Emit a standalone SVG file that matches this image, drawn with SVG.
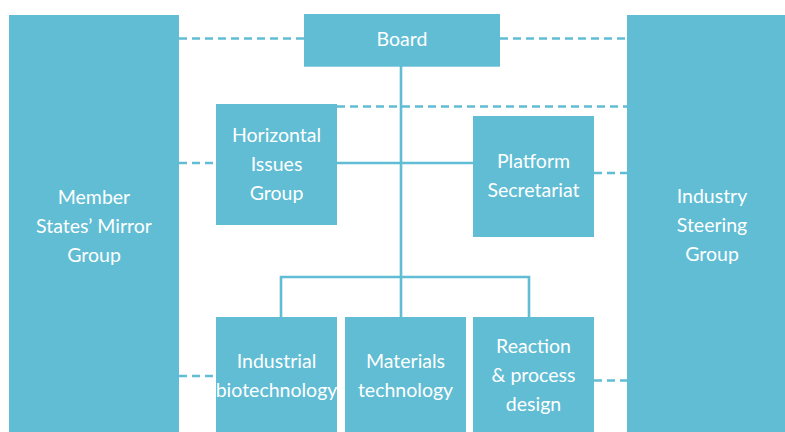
<svg xmlns="http://www.w3.org/2000/svg" width="785" height="432" viewBox="0 0 785 432">
  <style>
    .box { fill: #60bdd4; }
    .lbl { fill: #ffffff; font-family: Lato, "Open Sans", "DejaVu Sans", sans-serif; font-size: 19.5px; text-anchor: middle; }
    .solid { stroke: #60bdd4; stroke-width: 2.6; fill: none; }
    .dash { stroke: #60bdd4; stroke-width: 2.6; fill: none; stroke-dasharray: 8 5; }
  </style>
  <rect width="785" height="432" fill="#ffffff"/>

  <!-- connectors -->
  <g id="connectors">
    <!-- reporting tree -->
    <path class="solid" d="M401 66 V317"/>
    <path class="solid" d="M337 163 H473"/>
    <path class="solid" d="M281 317 V277 H529 V317"/>
    <!-- consultation links -->
    <path class="dash" d="M179 38.5 H304"/>
    <path class="dash" d="M500 38.5 H627"/>
    <path class="dash" d="M337 106.5 H627"/>
    <path class="dash" d="M179 163 H216"/>
    <path class="dash" d="M594 173 H627"/>
    <path class="dash" d="M179 376 H216"/>
    <path class="dash" d="M594 380.5 H627"/>
  </g>

  <g id="member-states">
    <rect class="box" x="9" y="15" width="170" height="417"/>
    <text class="lbl" x="94" y="204">Member</text>
    <text class="lbl" x="94" y="233">States’ Mirror</text>
    <text class="lbl" x="94" y="262">Group</text>
  </g>

  <g id="industry-steering">
    <rect class="box" x="627" y="15" width="158" height="417"/>
    <text class="lbl" x="712" y="203">Industry</text>
    <text class="lbl" x="712" y="232">Steering</text>
    <text class="lbl" x="712" y="261">Group</text>
  </g>

  <g id="board">
    <rect class="box" x="304" y="14" width="196" height="52.7"/>
    <text class="lbl" x="402" y="46">Board</text>
  </g>

  <g id="horizontal-issues">
    <rect class="box" x="216" y="104" width="121" height="121"/>
    <text class="lbl" x="276.5" y="142">Horizontal</text>
    <text class="lbl" x="276.5" y="171">Issues</text>
    <text class="lbl" x="276.5" y="200">Group</text>
  </g>

  <g id="platform-secretariat">
    <rect class="box" x="473" y="116" width="121" height="121"/>
    <text class="lbl" x="533.5" y="168">Platform</text>
    <text class="lbl" x="533.5" y="197">Secretariat</text>
  </g>

  <g id="industrial-biotech">
    <rect class="box" x="216" y="317" width="121" height="115"/>
    <text class="lbl" x="276.5" y="368">Industrial</text>
    <text class="lbl" x="276.5" y="397">biotechnology</text>
  </g>

  <g id="materials-tech">
    <rect class="box" x="345" y="317" width="121" height="115"/>
    <text class="lbl" x="405.5" y="368">Materials</text>
    <text class="lbl" x="405.5" y="397">technology</text>
  </g>

  <g id="reaction-process">
    <rect class="box" x="473" y="317" width="121" height="115"/>
    <text class="lbl" x="533.5" y="353">Reaction</text>
    <text class="lbl" x="533.5" y="382">&amp; process</text>
    <text class="lbl" x="533.5" y="411">design</text>
  </g>
</svg>
